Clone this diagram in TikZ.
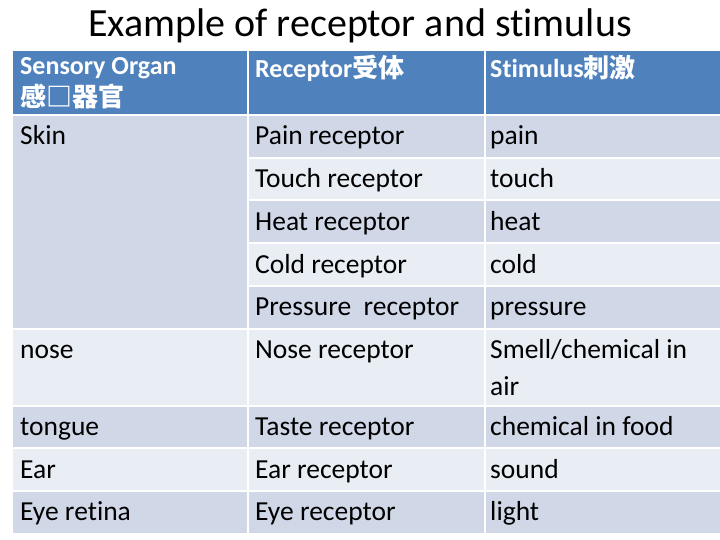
\documentclass[tikz,border=0pt]{standalone}
\usepackage{fontspec}
\setmainfont[RawFeature=-liga]{Carlito}
\newfontfamily\cjk{Noto Sans CJK SC}
\definecolor{hdr}{HTML}{4F81BD}
\definecolor{drk}{HTML}{D0D8E8}
\definecolor{lgt}{HTML}{E9EDF4}
\tikzset{cellbox/.style={draw=white,line width=2pt},
 txt/.style={anchor=base west,inner sep=0pt,font=\fontsize{27.5}{32}\selectfont},
 htxt/.style={anchor=base west,inner sep=0pt,font=\fontsize{26}{32}\selectfont\bfseries,text=white,align=left}}
\newcommand\cellrect[6]{\path[cellbox,fill=#6] (#2,#3) rectangle (#4,#5) coordinate (#1);}
\begin{document}
\begin{tikzpicture}[x=1pt,y=-1pt]
\useasboundingbox (0,0) rectangle (720,540);
\fill[white] (0,0) rectangle (720,540);
\node[inner sep=0pt,anchor=base,font=\fontsize{40}{46}\selectfont] (title) at (360,37) {Example of receptor and stimulus};
% header
\cellrect{h1}{12}{50}{248}{115}{hdr}
\cellrect{h2}{248}{50}{485}{115}{hdr}
\cellrect{h3}{485}{50}{722}{115}{hdr}
% skin block
\cellrect{skin}{12}{115}{248}{329}{drk}
\cellrect{r1}{248}{115}{485}{158}{drk}\cellrect{s1}{485}{115}{722}{158}{drk}
\cellrect{r2}{248}{158}{485}{200}{lgt}\cellrect{s2}{485}{158}{722}{200}{lgt}
\cellrect{r3}{248}{200}{485}{243}{drk}\cellrect{s3}{485}{200}{722}{243}{drk}
\cellrect{r4}{248}{243}{485}{286}{lgt}\cellrect{s4}{485}{243}{722}{286}{lgt}
\cellrect{r5}{248}{286}{485}{329}{drk}\cellrect{s5}{485}{286}{722}{329}{drk}
\cellrect{o6}{12}{329}{248}{406}{lgt}\cellrect{r6}{248}{329}{485}{406}{lgt}\cellrect{s6}{485}{329}{722}{406}{lgt}
\cellrect{o7}{12}{406}{248}{448}{drk}\cellrect{r7}{248}{406}{485}{448}{drk}\cellrect{s7}{485}{406}{722}{448}{drk}
\cellrect{o8}{12}{448}{248}{491}{lgt}\cellrect{r8}{248}{448}{485}{491}{lgt}\cellrect{s8}{485}{448}{722}{491}{lgt}
\cellrect{o9}{12}{491}{248}{534}{drk}\cellrect{r9}{248}{491}{485}{534}{drk}\cellrect{s9}{485}{491}{722}{534}{drk}
% header text
\node[htxt] (th1a) at (20,75) {Sensory Organ};
\node[htxt] (th1b) at (20,107) {\cjk 感□器官};
\node[htxt] (th2) at (255,78) {Receptor{\cjk 受体}};
\node[htxt] (th3) at (490,78) {Stimulus{\cjk 刺激}};
% body text
\node[txt] (t1) at (20,145) {Skin};
\node[txt] (u1) at (255,145) {Pain receptor};   \node[txt] (v1) at (490,145) {pain};
\node[txt] (u2) at (255,188) {Touch receptor};  \node[txt] (v2) at (490,188) {touch};
\node[txt] (u3) at (255,230) {Heat receptor};   \node[txt] (v3) at (490,230) {heat};
\node[txt] (u4) at (255,273) {Cold receptor};   \node[txt] (v4) at (490,273) {cold};
\node[txt] (u5) at (255,315) {Pressure\ \ receptor}; \node[txt] (v5) at (490,315) {pressure};
\node[txt] (t6) at (20,358) {nose};
\node[txt] (u6) at (255,358) {Nose receptor};   \node[txt] (v6) at (490,358) {Smell/chemical in};
\node[txt] (v6b) at (490,395) {air};
\node[txt] (t7) at (20,435) {tongue};
\node[txt] (u7) at (255,435) {Taste receptor};  \node[txt] (v7) at (490,435) {chemical in food};
\node[txt] (t8) at (20,478) {Ear};
\node[txt] (u8) at (255,478) {Ear receptor};    \node[txt] (v8) at (490,478) {sound};
\node[txt] (t9) at (20,520) {Eye retina};
\node[txt] (u9) at (255,520) {Eye receptor};    \node[txt] (v9) at (490,520) {light};
\end{tikzpicture}
\end{document}
